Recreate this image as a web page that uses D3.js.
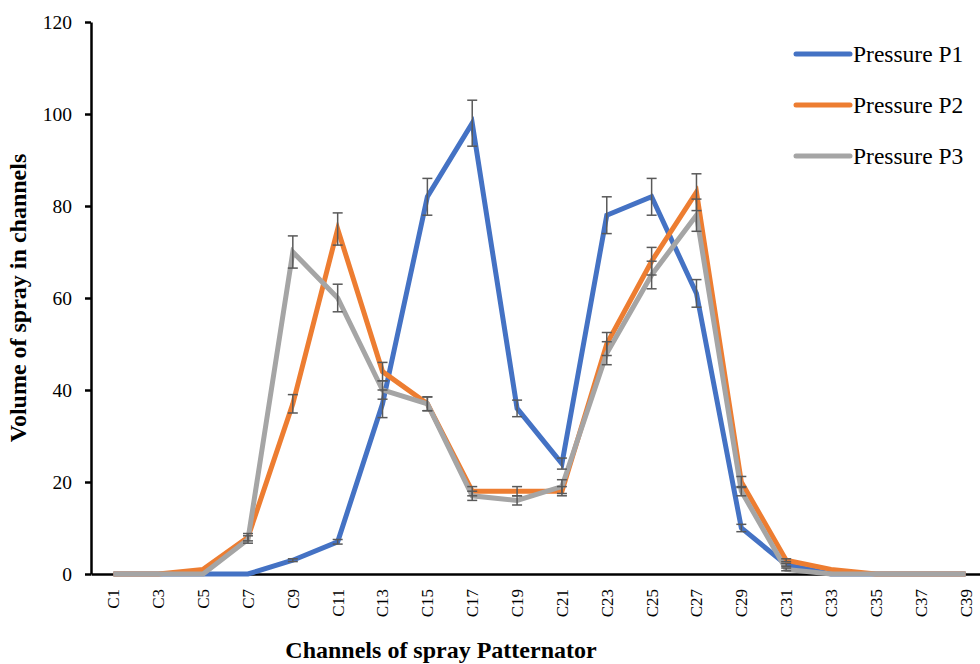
<!DOCTYPE html>
<html>
<head>
<meta charset="utf-8">
<script src="https://cdn.jsdelivr.net/npm/d3@7"></script>
<style>
  body { margin: 0; background: #fff; }
  svg text { font-family: "Liberation Serif", "Times New Roman", "DejaVu Serif", serif; }
</style>
</head>
<body>
<div id="chart"></div>
<script>
var channels = ["C1", "C3", "C5", "C7", "C9", "C11", "C13", "C15", "C17", "C19",
  "C21", "C23", "C25", "C27", "C29", "C31", "C33", "C35", "C37", "C39"];
var p1Values = [0, 0, 0, 0, 3, 7, 37, 82, 98, 36, 24, 78, 82, 61, 10, 2, 0, 0, 0, 0];
var p1Errors = [0, 0, 0, 0, 0.3, 0.5, 3, 4, 5, 1.8, 1.2, 4, 4, 3, 0.8, 0.3, 0, 0, 0, 0];
var p2Values = [0, 0, 1, 8, 37, 75, 44, 37, 18, 18, 18, 50, 68, 83, 20, 3, 1, 0, 0, 0];
var p2Errors = [0, 0, 0, 0.8, 2, 3.5, 2, 1.5, 1, 1, 1, 2.5, 3, 4, 1.2, 0.3, 0, 0, 0, 0];
var p3Values = [0, 0, 0, 7.5, 70, 60, 40, 37, 17, 16, 19, 48, 65, 78, 18, 1, 0, 0, 0, 0];
var p3Errors = [0, 0, 0, 0.8, 3.5, 3, 2, 1.5, 1, 1, 1.5, 2.5, 3, 3.5, 1, 0.3, 0, 0, 0, 0];
var seriesNames = ["Pressure P1", "Pressure P2", "Pressure P3"];
var seriesColors = ["#4472C4", "#ED7D31", "#A5A5A5"];
var yTicks = [0, 20, 40, 60, 80, 100, 120];

var width = 980, height = 664;
var margin = {top: 22, right: -8, bottom: 90, left: 91};

var svg = d3.select("#chart").append("svg")
  .attr("width", width)
  .attr("height", height);

var x = d3.scaleBand()
  .domain(channels)
  .range([margin.left, width - margin.right]);

var y = d3.scaleLinear()
  .domain([0, 120])
  .range([height - margin.bottom, margin.top]);

var cx = function(c) { return x(c) + x.bandwidth() / 2; };

var series = [
  {name: seriesNames[0], color: seriesColors[0], values: p1Values, errors: p1Errors},
  {name: seriesNames[1], color: seriesColors[1], values: p2Values, errors: p2Errors},
  {name: seriesNames[2], color: seriesColors[2], values: p3Values, errors: p3Errors}
];

// y axis
var yAxis = svg.append("g")
  .attr("transform", "translate(" + margin.left + ",0)")
  .call(d3.axisLeft(y).tickValues(yTicks).tickSize(6).tickSizeOuter(0));
yAxis.attr("font-family", null);
yAxis.select(".domain").attr("stroke", "#000").attr("stroke-width", 2.5);
yAxis.selectAll(".tick line").attr("stroke", "#000").attr("stroke-width", 2.5);
yAxis.selectAll(".tick text")
  .attr("font-size", 19.5)
  .attr("fill", "#000")
  .attr("x", -19);

// x axis
var xAxis = svg.append("g")
  .attr("transform", "translate(0," + y(0) + ")")
  .call(d3.axisBottom(x).tickSize(0).tickSizeOuter(0));
xAxis.attr("font-family", null);
xAxis.select(".domain").attr("stroke", "#000").attr("stroke-width", 2.5);
xAxis.selectAll(".tick text")
  .attr("font-size", 17)
  .attr("fill", "#000")
  .attr("transform", "rotate(-90)")
  .attr("text-anchor", "end")
  .attr("x", -15)
  .attr("y", 0)
  .attr("dy", "0.35em");

// lines
var line = d3.line()
  .x(function(d, i) { return cx(channels[i]); })
  .y(function(d) { return y(d); });

series.forEach(function(s) {
  svg.append("path")
    .datum(s.values)
    .attr("fill", "none")
    .attr("stroke", s.color)
    .attr("stroke-width", 5)
    .attr("stroke-linejoin", "miter")
    .attr("d", line);
});

// error bars
series.forEach(function(s) {
  var g = svg.append("g").attr("stroke", "#595959").attr("stroke-width", 1.5);
  s.values.forEach(function(v, i) {
    var e = s.errors[i];
    if (!e) return;
    var px = cx(channels[i]);
    var top = y(v + e), bot = y(v - e);
    g.append("line").attr("x1", px).attr("x2", px).attr("y1", top).attr("y2", bot);
    g.append("line").attr("x1", px - 5).attr("x2", px + 5).attr("y1", top).attr("y2", top);
    g.append("line").attr("x1", px - 5).attr("x2", px + 5).attr("y1", bot).attr("y2", bot);
  });
});

// legend
var legend = svg.append("g").attr("transform", "translate(796,54)");
series.forEach(function(s, i) {
  var gy = i * 51;
  legend.append("line")
    .attr("x1", 0).attr("x2", 54)
    .attr("y1", gy).attr("y2", gy)
    .attr("stroke", s.color)
    .attr("stroke-width", 5)
    .attr("stroke-linecap", "round");
  legend.append("text")
    .attr("x", 57).attr("y", gy)
    .attr("dy", "0.33em")
    .attr("font-size", 23.5)
    .attr("fill", "#000")
    .text(s.name);
});

// axis titles
svg.append("text")
  .attr("transform", "translate(26," + ((y(0) + y(120)) / 2) + ") rotate(-90)")
  .attr("text-anchor", "middle")
  .attr("font-size", 24)
  .attr("font-weight", "bold")
  .text("Volume of spray in channels");

svg.append("text")
  .attr("x", 441)
  .attr("y", 658)
  .attr("text-anchor", "middle")
  .attr("font-size", 24)
  .attr("font-weight", "bold")
  .text("Channels of spray Patternator");
</script>
</body>
</html>
